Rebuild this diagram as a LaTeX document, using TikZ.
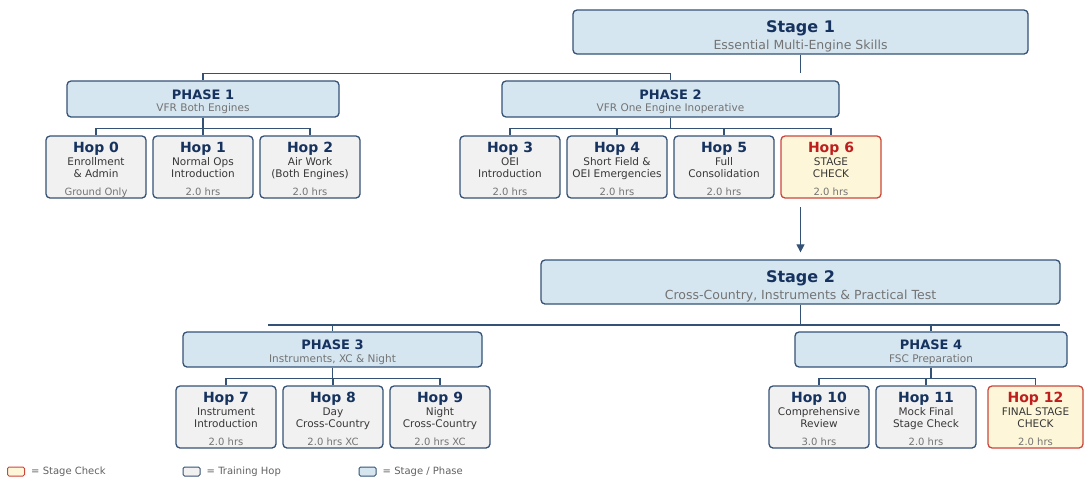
\documentclass[tikz,border=0pt]{standalone}
\usepackage{fontspec}
\setmainfont{DejaVu Sans}
\usetikzlibrary{arrows.meta,positioning}

\definecolor{linecol}{RGB}{52,82,118}
\definecolor{titlecol}{RGB}{22,50,95}
\definecolor{stagefill}{RGB}{214,230,240}
\definecolor{hopfill}{RGB}{241,241,241}
\definecolor{checkfill}{RGB}{253,246,216}
\definecolor{checkred}{RGB}{205,70,60}
\definecolor{hopred}{RGB}{190,30,30}
\definecolor{bodycol}{RGB}{55,55,55}
\definecolor{subgray}{RGB}{115,115,115}

% text of the boxes
\newcommand{\stagetxt}[2]{{\fontsize{16}{17}\selectfont\bfseries\color{titlecol}\rule{0pt}{20.3pt}#1}\\{\color{subgray}#2\rule[-3pt]{0pt}{3pt}}}
\newcommand{\phasetxt}[2]{{\fontsize{13}{14}\selectfont\bfseries\color{titlecol}\rule{0pt}{15.8pt}#1}\\{\color{subgray}#2\rule[-2.5pt]{0pt}{2.5pt}}}
\newcommand{\hoptxt}[5][titlecol]{{\fontsize{14}{15}\selectfont\bfseries\color{#1}\rule{0pt}{16.3pt}#2}\\{\color{bodycol}#3}\\{\color{bodycol}#4}\\[5.1pt]{\fontsize{10}{12}\selectfont\color{subgray}#5\rule[-2.5pt]{0pt}{2.5pt}}}

\begin{document}
\begin{tikzpicture}[x=1pt,y=-1pt,
  box/.style={draw=linecol, line width=1.3pt, rounded corners=4pt, align=center, inner sep=0pt},
  stagebox/.style={box, fill=stagefill, minimum height=44pt, font=\fontsize{12.5}{16.7}\selectfont},
  phasebox/.style={box, fill=stagefill, minimum height=36pt, font=\fontsize{10.5}{12.6}\selectfont},
  hopbox/.style={box, fill=hopfill, minimum width=100pt, minimum height=60pt, font=\fontsize{10.5}{12.7}\selectfont},
  checkbox/.style={hopbox, draw=checkred},
  link/.style={draw=linecol, line width=1.2pt},
  legbox/.style={draw, line width=1pt, rounded corners=1.5pt, minimum width=17pt, minimum height=9pt, inner sep=0pt},
  legtext/.style={font=\fontsize{10}{12}\selectfont, text=black!62, inner sep=0pt}]
\useasboundingbox (0,0) rectangle (1084,480);

% stage 1
\node[stagebox, minimum width=455pt] (st1) at (800.5,32) {\stagetxt{Stage 1}{Essential Multi-Engine Skills}};
\node[phasebox, minimum width=272pt] (ph1) at (203,99) {\phasetxt{PHASE 1}{VFR Both Engines}};
\node[phasebox, minimum width=337pt] (ph2) at (670.5,99) {\phasetxt{PHASE 2}{VFR One Engine Inoperative}};

\node[hopbox] (h0) at (96,167) {\hoptxt{Hop 0}{Enrollment}{\& Admin}{Ground Only}};
\node[hopbox] (h1) at (203,167) {\hoptxt{Hop 1}{Normal Ops}{Introduction}{2.0 hrs}};
\node[hopbox] (h2) at (310,167) {\hoptxt{Hop 2}{Air Work}{(Both Engines)}{2.0 hrs}};
\node[hopbox] (h3) at (510,167) {\hoptxt{Hop 3}{OEI}{Introduction}{2.0 hrs}};
\node[hopbox] (h4) at (617,167) {\hoptxt{Hop 4}{Short Field \&}{OEI Emergencies}{2.0 hrs}};
\node[hopbox] (h5) at (724,167) {\hoptxt{Hop 5}{Full}{Consolidation}{2.0 hrs}};
\node[checkbox, fill=checkfill] (h6) at (831,167) {\hoptxt[hopred]{Hop 6}{STAGE}{CHECK}{2.0 hrs}};

\coordinate (st1end) at (800.5,73);
\draw[link] (st1.south) -- (st1end);
\draw[link] (ph1.north) -- ++(0,-7) -| (ph2.north);
\foreach \h in {h0,h1,h2}
  \draw[link] (ph1.south) -- ++(0,11) -| (\h.north);
\foreach \h in {h3,h4,h5,h6}
  \draw[link] (ph2.south) -- ++(0,11) -| (\h.north);

% stage 2
\node[stagebox, minimum width=519pt] (st2) at (800.5,282) {\stagetxt{Stage 2}{Cross-Country, Instruments \& Practical Test}};
\coordinate (arrtop) at (800.5,207);
\draw[link, -{Triangle[length=8pt,width=8pt]}, shorten >=7pt] (arrtop) -- (st2.north);

\node[phasebox, minimum width=299pt, minimum height=35pt] (ph3) at (332.5,349.5) {\phasetxt{PHASE 3}{Instruments, XC \& Night}};
\node[phasebox, minimum width=272pt, minimum height=35pt] (ph4) at (931,349.5) {\phasetxt{PHASE 4}{FSC Preparation}};

\node[hopbox] (h7) at (226,417) {\hoptxt{Hop 7}{Instrument}{Introduction}{2.0 hrs}};
\node[hopbox] (h8) at (333,417) {\hoptxt{Hop 8}{Day}{Cross-Country}{2.0 hrs XC}};
\node[hopbox] (h9) at (440,417) {\hoptxt{Hop 9}{Night}{Cross-Country}{2.0 hrs XC}};
\node[hopbox] (h10) at (819,417) {\hoptxt{Hop 10}{Comprehensive}{Review}{3.0 hrs}};
\node[hopbox] (h11) at (926,417) {\hoptxt{Hop 11}{Mock Final}{Stage Check}{2.0 hrs}};
\node[checkbox, fill=checkfill, minimum width=95pt] (h12) at (1035.5,417) {\hoptxt[hopred]{Hop 12}{FINAL STAGE}{CHECK}{2.0 hrs}};

\coordinate (busL) at (268,325);
\coordinate (busR) at (1060,325);
\draw[link] (st2.south) -- (st2.south |- busL);
\draw[link] (busL) -- (busR);
\draw[link] (ph3.north) -- (ph3.north |- busL);
\draw[link] (ph4.north) -- (ph4.north |- busL);
\foreach \h in {h7,h8,h9}
  \draw[link] (ph3.south) -- ++(0,11) -| (\h.north);
\foreach \h in {h10,h11,h12}
  \draw[link] (ph4.south) -- ++(0,11) -| (\h.north);

% legend
\node[legbox, draw=checkred, fill=checkfill] (lg1) at (16,471.5) {};
\node[legtext, right=6pt of lg1] (lt1) {= Stage Check};
\node[legbox, draw=linecol, fill=hopfill] (lg2) at (191.5,471.5) {};
\node[legtext, right=6pt of lg2] (lt2) {= Training Hop};
\node[legbox, draw=linecol, fill=stagefill] (lg3) at (367.5,471.5) {};
\node[legtext, right=6pt of lg3] (lt3) {= Stage / Phase};
\end{tikzpicture}
\end{document}
